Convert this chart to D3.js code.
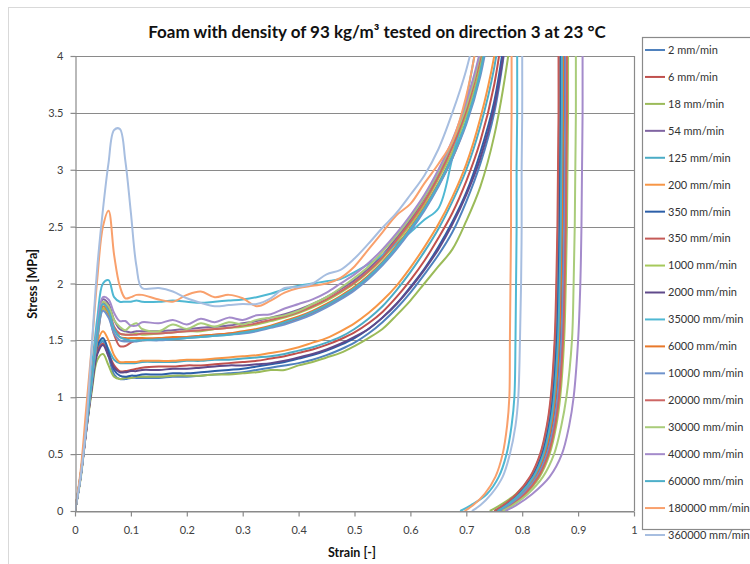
<!DOCTYPE html>
<html><head><meta charset="utf-8">
<script src="https://cdn.jsdelivr.net/npm/d3@7"></script>
<style>body{margin:0;background:#fff}svg{display:block}text{font-family:Lato,"Open Sans",sans-serif}</style>
</head><body>
<svg id="c" width="750" height="564"></svg>
<script>
// ---- data ----
const strainGrid = [0,0.01,0.02,0.03,0.04,0.05,0.06,0.07,0.08,0.09,0.1,0.11,0.12,0.15,0.175,0.2,0.225,0.25,0.275,0.3,0.325,0.35,0.375,0.4,0.425,0.45,0.475,0.5,0.525,0.55,0.575,0.6,0.625,0.65,0.675,0.7,0.725,0.75,0.775,0.8];
const unloadStress = [6,4,3.5,3,2.5,2,1.5,1,0.75,0.5,0.3,0.15,0.05,0];
const rateLabels = ["2 mm/min","6 mm/min","18 mm/min","54 mm/min","125 mm/min","200 mm/min","350 mm/min","350 mm/min","1000 mm/min","2000 mm/min","35000 mm/min","6000 mm/min","10000 mm/min","20000 mm/min","30000 mm/min","40000 mm/min","60000 mm/min","180000 mm/min","360000 mm/min"];
const xTicks = [0,0.1,0.2,0.3,0.4,0.5,0.6,0.7,0.8,0.9,1];
const yTicks = [0,0.5,1,1.5,2,2.5,3,3.5,4];

// loading stress (MPa) on strainGrid
const load_2 = [0,.3,.72,1.1,1.42,1.49,1.36,1.2,1.16,1.16,1.17,1.17,1.17,1.17,1.18,1.18,1.19,1.2,1.21,1.22,1.24,1.26,1.28,1.3,1.33,1.37,1.42,1.48,1.56,1.66,1.78,1.92,2.08,2.25,2.45,2.72,3.05,3.5,4.3,5.5];
const load_6 = [0,.3,.72,1.1,1.4,1.47,1.38,1.28,1.23,1.23,1.24,1.25,1.26,1.27,1.27,1.28,1.28,1.29,1.3,1.31,1.32,1.34,1.36,1.39,1.42,1.46,1.51,1.57,1.65,1.75,1.88,2.03,2.2,2.4,2.62,2.9,3.25,3.75,4.6];
const load_18 = [0,.28,.7,1.05,1.33,1.38,1.28,1.18,1.16,1.17,1.17,1.18,1.18,1.18,1.19,1.19,1.19,1.2,1.2,1.21,1.22,1.24,1.24,1.28,1.31,1.35,1.39,1.45,1.52,1.6,1.72,1.85,2.0,2.15,2.3,2.55,2.85,3.3,4.0,5.0];
const load_54 = [0,.3,.72,1.15,1.6,1.86,1.82,1.68,1.6,1.58,1.57,1.58,1.58,1.58,1.59,1.6,1.61,1.62,1.63,1.65,1.67,1.7,1.73,1.77,1.82,1.88,1.95,2.03,2.13,2.25,2.4,2.56,2.75,2.97,3.22,3.55,4.0,4.8];
const load_125 = [0,.32,.75,1.15,1.45,1.5,1.42,1.33,1.3,1.3,1.3,1.3,1.31,1.31,1.31,1.32,1.32,1.33,1.33,1.34,1.35,1.36,1.38,1.41,1.44,1.48,1.53,1.6,1.69,1.8,1.94,2.1,2.28,2.48,2.72,3.0,3.38,3.9,4.8];
const load_200 = [0,.32,.75,1.15,1.48,1.58,1.5,1.37,1.31,1.31,1.31,1.31,1.32,1.32,1.32,1.33,1.33,1.34,1.35,1.36,1.37,1.39,1.41,1.44,1.48,1.52,1.58,1.65,1.74,1.85,1.98,2.14,2.32,2.52,2.76,3.05,3.45,4.0,4.9];
const load_350 = [0,.3,.72,1.12,1.45,1.52,1.4,1.24,1.19,1.18,1.19,1.19,1.2,1.2,1.21,1.21,1.22,1.23,1.24,1.25,1.27,1.29,1.31,1.34,1.37,1.41,1.46,1.52,1.6,1.7,1.82,1.97,2.13,2.32,2.54,2.8,3.15,3.6,4.4,5.5];
const load_350b = [0,.3,.7,1.1,1.5,1.78,1.72,1.55,1.45,1.45,1.48,1.5,1.5,1.51,1.52,1.53,1.54,1.55,1.56,1.57,1.59,1.62,1.65,1.69,1.74,1.8,1.87,1.95,2.05,2.17,2.31,2.47,2.65,2.86,3.1,3.42,3.85,4.6];
const load_1000 = [0,.3,.72,1.12,1.52,1.78,1.74,1.6,1.56,1.55,1.55,1.56,1.55,1.56,1.57,1.58,1.58,1.6,1.61,1.62,1.64,1.67,1.7,1.74,1.79,1.85,1.92,2.0,2.1,2.22,2.36,2.52,2.7,2.92,3.16,3.48,3.92,4.7];
const load_2000 = [0,.3,.7,1.08,1.38,1.46,1.36,1.26,1.22,1.22,1.23,1.23,1.24,1.24,1.25,1.25,1.26,1.27,1.28,1.28,1.29,1.3,1.32,1.35,1.38,1.42,1.47,1.53,1.6,1.7,1.82,1.96,2.12,2.3,2.52,2.78,3.1,3.55,4.3,5.4];
const load_35000 = [0,.32,.78,1.25,1.7,2.0,2.03,1.88,1.84,1.84,1.84,1.85,1.84,1.84,1.85,1.84,1.83,1.84,1.85,1.86,1.88,1.91,1.95,1.98,2.0,2.02,2.04,2.1,2.17,2.25,2.35,2.45,2.56,2.66,3.1,3.62,4.3];
const load_6000 = [0,.32,.75,1.15,1.55,1.8,1.75,1.6,1.53,1.52,1.52,1.52,1.52,1.52,1.53,1.53,1.54,1.55,1.56,1.58,1.6,1.63,1.67,1.71,1.76,1.82,1.89,1.97,2.07,2.19,2.33,2.49,2.67,2.88,3.12,3.42,3.85,4.6];
const load_10000 = [0,.3,.72,1.12,1.52,1.76,1.7,1.56,1.5,1.49,1.49,1.49,1.5,1.5,1.51,1.52,1.53,1.54,1.55,1.56,1.58,1.61,1.64,1.68,1.73,1.79,1.86,1.94,2.04,2.16,2.3,2.46,2.64,2.85,3.1,3.4,3.82,4.5];
const load_20000 = [0,.3,.74,1.15,1.56,1.83,1.78,1.62,1.56,1.55,1.55,1.55,1.56,1.56,1.57,1.58,1.59,1.6,1.61,1.63,1.65,1.68,1.71,1.75,1.8,1.86,1.93,2.01,2.11,2.23,2.38,2.54,2.72,2.94,3.2,3.52,3.98,4.7];
const load_30000 = [0,.3,.73,1.15,1.58,1.84,1.8,1.68,1.62,1.59,1.63,1.65,1.6,1.58,1.64,1.6,1.65,1.62,1.66,1.64,1.68,1.7,1.72,1.76,1.82,1.88,1.96,2.05,2.15,2.28,2.42,2.58,2.76,2.98,3.24,3.56,4.02,4.8];
const load_40000 = [0,.3,.72,1.15,1.6,1.88,1.86,1.74,1.67,1.67,1.63,1.63,1.66,1.65,1.68,1.64,1.69,1.66,1.7,1.68,1.72,1.73,1.78,1.82,1.86,1.92,2.0,2.08,2.18,2.3,2.44,2.6,2.78,3.0,3.26,3.6,4.05,4.8];
const load_60000 = [0,.3,.73,1.14,1.56,1.82,1.76,1.6,1.53,1.51,1.5,1.5,1.5,1.51,1.51,1.52,1.53,1.54,1.55,1.57,1.59,1.62,1.66,1.7,1.75,1.81,1.88,1.96,2.06,2.18,2.32,2.48,2.66,2.87,3.12,3.43,3.86,4.6];
const load_180000 = [0,.35,.9,1.45,2.05,2.5,2.64,2.25,1.98,1.87,1.88,1.9,1.9,1.86,1.84,1.9,1.93,1.88,1.9,1.87,1.8,1.85,1.92,1.96,1.98,2.0,2.05,2.15,2.3,2.45,2.6,2.7,2.88,3.05,3.25,3.65,4.3];
const load_360000 = [0,.3,.75,1.45,2.15,2.65,3.06,3.35,3.36,3.08,2.62,2.15,1.96,1.96,1.93,1.87,1.83,1.8,1.81,1.82,1.82,1.87,1.96,1.97,2.0,2.08,2.12,2.22,2.35,2.49,2.62,2.78,2.95,3.18,3.5,3.88,4.4];

// unloading strain on unloadStress
const unload_2 = [0.874,0.872,0.872,0.871,0.870,0.868,0.866,0.859,0.852,0.840,0.822,0.797,0.772,0.755];
const unload_6 = [0.868,0.866,0.866,0.865,0.864,0.862,0.859,0.852,0.845,0.833,0.815,0.791,0.768,0.752];
const unload_18 = [0.876,0.874,0.874,0.873,0.872,0.870,0.867,0.858,0.850,0.837,0.816,0.789,0.760,0.742];
const unload_54 = [0.880,0.878,0.878,0.877,0.876,0.874,0.871,0.864,0.857,0.845,0.827,0.802,0.777,0.760];
const unload_125 = [0.870,0.868,0.868,0.867,0.866,0.864,0.861,0.854,0.847,0.835,0.817,0.793,0.769,0.753];
const unload_200 = [0.872,0.870,0.870,0.869,0.868,0.866,0.863,0.856,0.849,0.837,0.819,0.795,0.771,0.756];
const unload_350 = [0.871,0.869,0.869,0.868,0.867,0.865,0.862,0.855,0.848,0.836,0.818,0.793,0.768,0.751];
const unload_350b = [0.867,0.865,0.865,0.864,0.863,0.861,0.858,0.851,0.844,0.832,0.814,0.790,0.766,0.750];
const unload_1000 = [0.884,0.882,0.882,0.881,0.880,0.878,0.875,0.868,0.861,0.849,0.831,0.806,0.781,0.763];
const unload_2000 = [0.878,0.876,0.876,0.875,0.874,0.872,0.869,0.862,0.855,0.843,0.825,0.800,0.775,0.758];
const unload_35000 = [0.792,0.791,0.791,0.790,0.790,0.789,0.788,0.786,0.781,0.772,0.758,0.737,0.708,0.689];
const unload_6000 = [0.875,0.873,0.873,0.872,0.871,0.869,0.866,0.859,0.852,0.840,0.822,0.798,0.774,0.758];
const unload_10000 = [0.879,0.877,0.877,0.876,0.875,0.873,0.870,0.863,0.856,0.844,0.826,0.801,0.776,0.759];
const unload_20000 = [0.882,0.880,0.880,0.879,0.878,0.876,0.873,0.866,0.859,0.847,0.829,0.805,0.781,0.765];
const unload_30000 = [0.898,0.896,0.896,0.895,0.894,0.892,0.889,0.879,0.870,0.857,0.837,0.810,0.783,0.765];
const unload_40000 = [0.910,0.908,0.908,0.907,0.906,0.904,0.900,0.892,0.884,0.871,0.849,0.818,0.789,0.770];
const unload_60000 = [0.873,0.871,0.871,0.870,0.869,0.867,0.864,0.857,0.850,0.838,0.820,0.796,0.772,0.756];
const unload_180000 = [0.782,0.781,0.781,0.780,0.780,0.779,0.778,0.777,0.773,0.765,0.752,0.733,0.712,0.697];
const unload_360000 = [0.801,0.800,0.800,0.799,0.799,0.798,0.796,0.793,0.788,0.778,0.765,0.745,0.725,0.710];

const lineColors = ["#4F81BD","#C0504D","#9BBB59","#8064A2","#4BACC6","#F79646","#2C5FA8","#C55A57","#A6C95B","#604A8B","#4FB8D3","#E8782A","#6F93CC","#CD6664","#A9CC7A","#A48BCB","#4DAFC9","#F9A06C","#A7BEE0"];

const loadSeries = [load_2,load_6,load_18,load_54,load_125,load_200,load_350,load_350b,load_1000,load_2000,load_35000,load_6000,load_10000,load_20000,load_30000,load_40000,load_60000,load_180000,load_360000];
const unloadSeries = [unload_2,unload_6,unload_18,unload_54,unload_125,unload_200,unload_350,unload_350b,unload_1000,unload_2000,unload_35000,unload_6000,unload_10000,unload_20000,unload_30000,unload_40000,unload_60000,unload_180000,unload_360000];

// ---- chart ----
const svg = d3.select("#c");
const x = d3.scaleLinear().domain([0,1]).range([75,634]);
const y = d3.scaleLinear().domain([0,4]).range([511,56]);
const px = v => Math.round(v) + 0.5;

svg.append("rect").attr("x",8.5).attr("y",7.5).attr("width",900).attr("height",700)
  .attr("fill","#fff").attr("stroke","#d9d9d9");

// gridlines
svg.append("g").selectAll("line").data(yTicks).join("line")
  .attr("x1",x(0)).attr("x2",x(1))
  .attr("y1",d=>px(y(d))).attr("y2",d=>px(y(d)))
  .attr("stroke","#8a8a8a").attr("stroke-width",1.2);
// right border of plot area
svg.append("line").attr("x1",px(x(1))).attr("x2",px(x(1))).attr("y1",y(4)).attr("y2",y(0))
  .attr("stroke","#8a8a8a").attr("stroke-width",1.2);

// curves
svg.append("clipPath").attr("id","plotclip").append("rect")
  .attr("x",x(0)).attr("y",y(4)).attr("width",x(1)-x(0)).attr("height",y(0)-y(4));
const line = d3.line().x(d=>x(d[0])).y(d=>y(d[1])).curve(d3.curveCatmullRom.alpha(0.5));
const series = rateLabels.map((name,i)=>({
  name, color: lineColors[i],
  load: loadSeries[i].map((v,j)=>[strainGrid[j], v]),
  unload: unloadSeries[i].map((s,j)=>[s, unloadStress[j]])
}));
const cg = svg.append("g").attr("clip-path","url(#plotclip)");
series.forEach(s=>{
  [s.load, s.unload].forEach(pts=>{
    cg.append("path").attr("d",line(pts)).attr("fill","none")
      .attr("stroke",s.color).attr("stroke-width",2).attr("stroke-linejoin","round");
  });
});

// axes
const fmt = d3.format("~g");
const yAxis = svg.append("g").attr("transform",`translate(${px(x(0))},0)`)
  .call(d3.axisLeft(y).tickValues(yTicks).tickFormat(fmt).tickSize(5).tickSizeOuter(0).tickPadding(7));
const xAxis = svg.append("g").attr("transform",`translate(0,${px(y(0))})`)
  .call(d3.axisBottom(x).tickValues(xTicks).tickFormat(fmt).tickSize(5).tickSizeOuter(0).tickPadding(10));
[yAxis,xAxis].forEach(g=>{
  g.selectAll("path,line").attr("stroke","#8a8a8a").attr("stroke-width",1.2);
  g.selectAll("text").attr("font-size",11).attr("fill","#404040").attr("font-family","Lato, sans-serif");
});

// titles
svg.append("text").attr("x",377).attr("y",38).attr("text-anchor","middle")
  .attr("font-size",17).attr("font-weight","bold").attr("fill","#111")
  .text("Foam with density of 93 kg/m\u00b3 tested on direction 3 at 23 \u00b0C");
svg.append("text").attr("transform","translate(37,284) rotate(-90)").attr("text-anchor","middle")
  .attr("font-size",12.5).attr("font-weight","bold").attr("fill","#111").text("Stress [MPa]");
svg.append("text").attr("x",352).attr("y",557).attr("text-anchor","middle")
  .attr("font-size",12.5).attr("font-weight","bold").attr("fill","#111").text("Strain [-]");

// legend
const lg = svg.append("g");
lg.append("rect").attr("x",642.5).attr("y",37.5).attr("width",140).attr("height",492)
  .attr("fill","#fff").attr("stroke","#8a8a8a").attr("stroke-width",1.2);
const ly = d3.scalePoint().domain(rateLabels.map((d,i)=>i)).range([50,535]);
const items = lg.selectAll("g.item").data(series).join("g").attr("class","item")
  .attr("transform",(d,i)=>`translate(0,${ly(i)})`);
items.append("line").attr("x1",645).attr("x2",665).attr("y1",0).attr("y2",0)
  .attr("stroke",d=>d.color).attr("stroke-width",2);
items.append("text").attr("x",668).attr("y",0).attr("dy","0.35em")
  .attr("font-size",11).attr("fill","#333").text(d=>d.name);
</script>
</body></html>
